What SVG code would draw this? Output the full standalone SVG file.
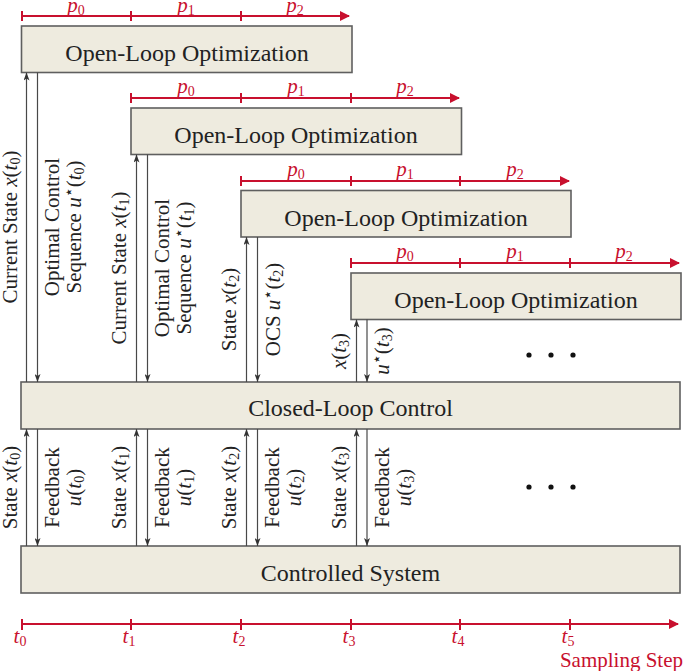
<svg xmlns="http://www.w3.org/2000/svg" width="685" height="671" viewBox="0 0 685 671">
<style>
.box{fill:#EEEBDF;stroke:#5f5f5f;stroke-width:1.6}
.bt{font-family:"Liberation Serif","DejaVu Serif",serif;font-size:24px;fill:#222;text-anchor:middle}
.vl{font-family:"Liberation Serif","DejaVu Serif",serif;font-size:21px;fill:#222;text-anchor:middle}
.m{font-style:italic}
.sub{font-size:14px}
.st{font-family:"DejaVu Sans",sans-serif;font-size:16px}
.red{stroke:#C8102E;stroke-width:2;fill:none}
.rt{font-family:"Liberation Serif","DejaVu Serif",serif;font-size:21px;fill:#C8102E;text-anchor:middle}
.conn line{stroke:#484848;stroke-width:1.2;marker-end:url(#ah)}
.dot{fill:#111}
</style>
<defs>
<marker id="ah" viewBox="0 0 8 6" refX="8" refY="3" markerWidth="8" markerHeight="6" markerUnits="userSpaceOnUse" orient="auto">
<path d="M0,0 L8,3 L0,6 L2,3 z" fill="#333"/>
</marker>
<marker id="rh" viewBox="0 0 10 10" refX="9" refY="5" markerWidth="10" markerHeight="10" markerUnits="userSpaceOnUse" orient="auto">
<path d="M0,0 L10,5 L0,10 z" fill="#C8102E"/>
</marker>
</defs>

<!-- red horizon arrows -->
<g id="horizon1">
<path class="red" d="M22,16 H349" marker-end="url(#rh)"/>
<path class="red" d="M22,11 V21 M131,11 V21 M241,11 V21"/>
<text class="rt" y="12"><tspan x="76" class="m">p</tspan><tspan class="sub" dy="3">0</tspan></text>
<text class="rt" y="12"><tspan x="186" class="m">p</tspan><tspan class="sub" dy="3">1</tspan></text>
<text class="rt" y="12"><tspan x="295" class="m">p</tspan><tspan class="sub" dy="3">2</tspan></text>
</g>
<g id="horizon2">
<path class="red" d="M131,98 H459" marker-end="url(#rh)"/>
<path class="red" d="M131,93 V103 M241,93 V103 M351,93 V103"/>
<text class="rt" y="93"><tspan x="186" class="m">p</tspan><tspan class="sub" dy="3">0</tspan></text>
<text class="rt" y="93"><tspan x="296" class="m">p</tspan><tspan class="sub" dy="3">1</tspan></text>
<text class="rt" y="93"><tspan x="405" class="m">p</tspan><tspan class="sub" dy="3">2</tspan></text>
</g>
<g id="horizon3">
<path class="red" d="M241,181 H569" marker-end="url(#rh)"/>
<path class="red" d="M241,176 V186 M351,176 V186 M460,176 V186"/>
<text class="rt" y="176"><tspan x="296" class="m">p</tspan><tspan class="sub" dy="3">0</tspan></text>
<text class="rt" y="176"><tspan x="405" class="m">p</tspan><tspan class="sub" dy="3">1</tspan></text>
<text class="rt" y="176"><tspan x="515" class="m">p</tspan><tspan class="sub" dy="3">2</tspan></text>
</g>
<g id="horizon4">
<path class="red" d="M351,263 H679" marker-end="url(#rh)"/>
<path class="red" d="M351,258 V268 M460,258 V268 M570,258 V268"/>
<text class="rt" y="258"><tspan x="405" class="m">p</tspan><tspan class="sub" dy="3">0</tspan></text>
<text class="rt" y="258"><tspan x="515" class="m">p</tspan><tspan class="sub" dy="3">1</tspan></text>
<text class="rt" y="258"><tspan x="624" class="m">p</tspan><tspan class="sub" dy="3">2</tspan></text>
</g>

<!-- boxes -->
<g id="olo1"><rect class="box" x="21.5" y="26" width="330.5" height="46.5"/><text class="bt" x="187" y="61">Open-Loop Optimization</text></g>
<g id="olo2"><rect class="box" x="131" y="108" width="330.5" height="46.5"/><text class="bt" x="296" y="143">Open-Loop Optimization</text></g>
<g id="olo3"><rect class="box" x="241" y="190.5" width="330" height="46.5"/><text class="bt" x="406" y="225.5">Open-Loop Optimization</text></g>
<g id="olo4"><rect class="box" x="351" y="273" width="330" height="46.5"/><text class="bt" x="516" y="308">Open-Loop Optimization</text></g>
<g id="clc"><rect class="box" x="21" y="382" width="659" height="47"/><text class="bt" x="350.5" y="416">Closed-Loop Control</text></g>
<g id="cs"><rect class="box" x="21" y="546" width="659" height="47"/><text class="bt" x="350.5" y="581">Controlled System</text></g>

<!-- connectors -->
<g id="connectors" class="conn">
<line x1="26.5" y1="382" x2="26.5" y2="72.5"/>
<line x1="37.5" y1="72.5" x2="37.5" y2="382"/>
<line x1="136.5" y1="382" x2="136.5" y2="154.5"/>
<line x1="147.5" y1="154.5" x2="147.5" y2="382"/>
<line x1="246.5" y1="382" x2="246.5" y2="237"/>
<line x1="257.5" y1="237" x2="257.5" y2="382"/>
<line x1="356.5" y1="382" x2="356.5" y2="319.5"/>
<line x1="367" y1="319.5" x2="367" y2="382"/>
<line x1="26.5" y1="546" x2="26.5" y2="429"/>
<line x1="37.5" y1="429" x2="37.5" y2="546"/>
<line x1="136.5" y1="546" x2="136.5" y2="429"/>
<line x1="147.5" y1="429" x2="147.5" y2="546"/>
<line x1="246.5" y1="546" x2="246.5" y2="429"/>
<line x1="257.5" y1="429" x2="257.5" y2="546"/>
<line x1="356.5" y1="546" x2="356.5" y2="429"/>
<line x1="367" y1="429" x2="367" y2="546"/>
</g>

<!-- connector labels -->
<g id="labels-upper">
<text class="vl" transform="translate(17,227) rotate(-90)">Current State <tspan class="m">x</tspan>(<tspan class="m">t</tspan><tspan class="sub" dy="3">0</tspan><tspan dy="-3">)</tspan></text>
<text class="vl" transform="translate(59,227) rotate(-90)">Optimal Control</text>
<text class="vl" transform="translate(81,227) rotate(-90)">Sequence <tspan class="m">u</tspan><tspan class="st" dy="-7">⋆</tspan><tspan dy="7">(</tspan><tspan class="m">t</tspan><tspan class="sub" dy="3">0</tspan><tspan dy="-3">)</tspan></text>

<text class="vl" transform="translate(126,268) rotate(-90)">Current State <tspan class="m">x</tspan>(<tspan class="m">t</tspan><tspan class="sub" dy="3">1</tspan><tspan dy="-3">)</tspan></text>
<text class="vl" transform="translate(169,268) rotate(-90)">Optimal Control</text>
<text class="vl" transform="translate(191,268) rotate(-90)">Sequence <tspan class="m">u</tspan><tspan class="st" dy="-7">⋆</tspan><tspan dy="7">(</tspan><tspan class="m">t</tspan><tspan class="sub" dy="3">1</tspan><tspan dy="-3">)</tspan></text>

<text class="vl" transform="translate(236,309.5) rotate(-90)">State <tspan class="m">x</tspan>(<tspan class="m">t</tspan><tspan class="sub" dy="3">2</tspan><tspan dy="-3">)</tspan></text>
<text class="vl" transform="translate(280,309.5) rotate(-90)">OCS <tspan class="m">u</tspan><tspan class="st" dy="-7">⋆</tspan><tspan dy="7">(</tspan><tspan class="m">t</tspan><tspan class="sub" dy="3">2</tspan><tspan dy="-3">)</tspan></text>

<text class="vl" transform="translate(346,351) rotate(-90)"><tspan class="m">x</tspan>(<tspan class="m">t</tspan><tspan class="sub" dy="3">3</tspan><tspan dy="-3">)</tspan></text>
<text class="vl" transform="translate(389,351) rotate(-90)"><tspan class="m">u</tspan><tspan class="st" dy="-7">⋆</tspan><tspan dy="7">(</tspan><tspan class="m">t</tspan><tspan class="sub" dy="3">3</tspan><tspan dy="-3">)</tspan></text>
</g>

<g id="labels-lower">
<text class="vl" transform="translate(17,487.5) rotate(-90)">State <tspan class="m">x</tspan>(<tspan class="m">t</tspan><tspan class="sub" dy="3">0</tspan><tspan dy="-3">)</tspan></text>
<text class="vl" transform="translate(59,487.5) rotate(-90)">Feedback</text>
<text class="vl" transform="translate(81,487.5) rotate(-90)"><tspan class="m">u</tspan>(<tspan class="m">t</tspan><tspan class="sub" dy="3">0</tspan><tspan dy="-3">)</tspan></text>

<text class="vl" transform="translate(126,487.5) rotate(-90)">State <tspan class="m">x</tspan>(<tspan class="m">t</tspan><tspan class="sub" dy="3">1</tspan><tspan dy="-3">)</tspan></text>
<text class="vl" transform="translate(169,487.5) rotate(-90)">Feedback</text>
<text class="vl" transform="translate(191,487.5) rotate(-90)"><tspan class="m">u</tspan>(<tspan class="m">t</tspan><tspan class="sub" dy="3">1</tspan><tspan dy="-3">)</tspan></text>

<text class="vl" transform="translate(236,487.5) rotate(-90)">State <tspan class="m">x</tspan>(<tspan class="m">t</tspan><tspan class="sub" dy="3">2</tspan><tspan dy="-3">)</tspan></text>
<text class="vl" transform="translate(279,487.5) rotate(-90)">Feedback</text>
<text class="vl" transform="translate(301,487.5) rotate(-90)"><tspan class="m">u</tspan>(<tspan class="m">t</tspan><tspan class="sub" dy="3">2</tspan><tspan dy="-3">)</tspan></text>

<text class="vl" transform="translate(346,487.5) rotate(-90)">State <tspan class="m">x</tspan>(<tspan class="m">t</tspan><tspan class="sub" dy="3">3</tspan><tspan dy="-3">)</tspan></text>
<text class="vl" transform="translate(389,487.5) rotate(-90)">Feedback</text>
<text class="vl" transform="translate(411,487.5) rotate(-90)"><tspan class="m">u</tspan>(<tspan class="m">t</tspan><tspan class="sub" dy="3">3</tspan><tspan dy="-3">)</tspan></text>
</g>

<!-- ellipses -->
<g id="dots-upper"><circle class="dot" cx="529" cy="355" r="2.6"/><circle class="dot" cx="551" cy="355" r="2.6"/><circle class="dot" cx="573" cy="355" r="2.6"/></g>
<g id="dots-lower"><circle class="dot" cx="529" cy="487" r="2.6"/><circle class="dot" cx="551" cy="487" r="2.6"/><circle class="dot" cx="573" cy="487" r="2.6"/></g>

<!-- time axis -->
<g id="axis">
<path class="red" d="M22,624 H678" marker-end="url(#rh)"/>
<path class="red" d="M22,619 V630 M131,619 V630 M241,619 V630 M351,619 V630 M460,619 V630 M570,619 V630"/>
<text class="rt" y="643"><tspan x="20" class="m">t</tspan><tspan class="sub" dy="3">0</tspan></text>
<text class="rt" y="643"><tspan x="129" class="m">t</tspan><tspan class="sub" dy="3">1</tspan></text>
<text class="rt" y="643"><tspan x="239" class="m">t</tspan><tspan class="sub" dy="3">2</tspan></text>
<text class="rt" y="643"><tspan x="349" class="m">t</tspan><tspan class="sub" dy="3">3</tspan></text>
<text class="rt" y="643"><tspan x="458" class="m">t</tspan><tspan class="sub" dy="3">4</tspan></text>
<text class="rt" y="643"><tspan x="568" class="m">t</tspan><tspan class="sub" dy="3">5</tspan></text>
<text class="rt" x="683" y="667" style="text-anchor:end">Sampling Step</text>
</g>
</svg>
